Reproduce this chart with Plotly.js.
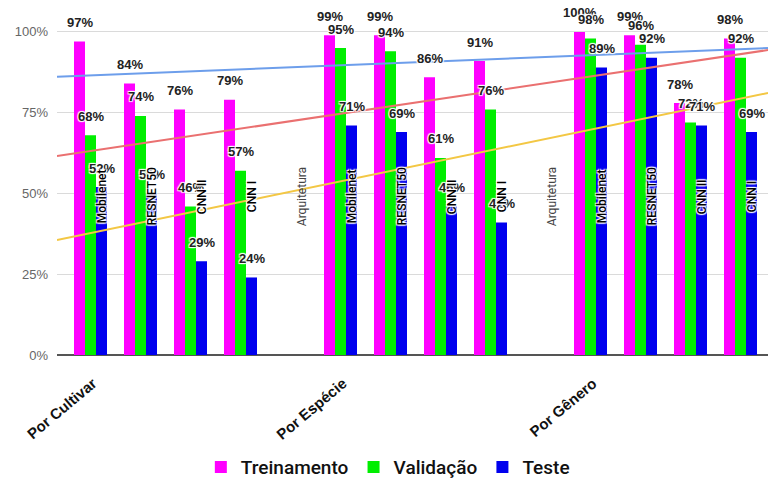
<!DOCTYPE html>
<html><head><meta charset="utf-8">
<script src="https://cdn.plot.ly/plotly-3.0.1.min.js"></script>
<style>html,body{margin:0;padding:0;background:#fff}#chart{width:768px;height:479px}</style>
</head><body><div id="chart"></div>
<script>
// ---- data ----
const groups = ['Por Cultivar', 'Por Espécie', 'Por Gênero'];
const archs = ['Mobilenet', 'RESNET50', 'CNN II', 'CNN I'];
const spacerLabel = 'Arquitetura';
const seriesNames = ['Treinamento', 'Validação', 'Teste'];
const treinamento = [97, 84, 76, 79, 99, 99, 86, 91, 100, 99, 78, 98];
const validacao   = [68, 74, 46, 57, 95, 94, 61, 76, 98, 96, 72, 92];
const teste       = [52, 50, 29, 24, 71, 69, 46, 41, 89, 92, 71, 69];
const trendX = [0.33, 14.55];
const trendTreinamento = [86.1, 95.0];
const trendValidacao   = [61.6, 94.4];
const trendTeste       = [35.6, 81.1];
const yTicks = [0, 25, 50, 75, 100];

// ---- build ----
const colors = ['#ff00ff', '#00ee00', '#0000ee'];
const trendColors = ['#6d9eeb', '#ea7070', '#f3c744'];
const seriesVals = [treinamento, validacao, teste];
const slots = [], slotArch = [];
groups.forEach((g, gi) => archs.forEach((a, ai) => { slots.push(gi * 5 + 1 + ai); slotArch.push(a); }));
const spacerSlots = groups.map((g, gi) => gi * 5);
const groupTicks = groups.map((g, gi) => gi * 5 + 1.05);

const bargap = 0.34;
const bw = (1 - bargap) / 3;
const offs = [-bw, 0, bw];

const traces = seriesVals.map((vals, k) => ({
  type: 'bar', name: seriesNames[k], x: slots, y: vals,
  marker: {color: colors[k], line: {width: 0}}, hoverinfo: 'skip'
}));
const trends = [trendTreinamento, trendValidacao, trendTeste];
trends.forEach((t, k) => traces.push({
  type: 'scatter', mode: 'lines', x: trendX, y: t, showlegend: false,
  line: {color: trendColors[k], width: 2}, hoverinfo: 'skip'
}));

const halo = '1px 1px 1px #fff, -1px -1px 1px #fff, 1px -1px 1px #fff, -1px 1px 1px #fff';
const annotations = [];
seriesVals.forEach((vals, k) => vals.forEach((v, i) => annotations.push({
  x: slots[i] + offs[k], y: v, xref: 'x', yref: 'y', text: v + '%', showarrow: false,
  yshift: 19, yanchor: 'middle', xanchor: 'center',
  font: {family: 'Arial, Liberation Sans, sans-serif', size: 13, color: '#222', weight: 'bold', shadow: halo}
})));
slots.forEach((s, i) => annotations.push({
  x: s + offs[2], y: 49, xref: 'x', yref: 'y', text: slotArch[i], showarrow: false, textangle: -90,
  font: {family: 'Liberation Sans Narrow, Arial Narrow, Roboto, sans-serif', size: 12, color: '#000', weight: 500, shadow: halo}
}));
spacerSlots.forEach(s => annotations.push({
  x: s + offs[2], y: 49, xref: 'x', yref: 'y', text: spacerLabel, showarrow: false, textangle: -90,
  font: {family: 'Liberation Sans Narrow, Arial Narrow, Roboto, sans-serif', size: 12, color: '#444'}
}));

const layout = {
  width: 768, height: 479,
  margin: {l: 57, r: 0, t: 19, b: 124},
  paper_bgcolor: '#fff', plot_bgcolor: '#fff',
  barmode: 'group', bargap: bargap, bargroupgap: 0,
  xaxis: {range: [0.33, 14.55], tickmode: 'array', tickvals: groupTicks, ticktext: groups, tickangle: -40,
    tickfont: {family: 'Arial, Liberation Sans, sans-serif', size: 15, color: '#111', weight: 'bold'},
    ticklabelstandoff: 16,
    showgrid: false, zeroline: false, ticks: '', showline: false},
  yaxis: {range: [0, 104], tickmode: 'array', tickvals: yTicks, ticktext: yTicks.map(v => v + '%'),
    gridcolor: '#dadada', gridwidth: 1, zeroline: true, zerolinecolor: '#555', zerolinewidth: 1.5,
    tickfont: {family: 'Arial, Liberation Sans, sans-serif', size: 13, color: '#666'}, ticklabelstandoff: 8},
  legend: {orientation: 'h', xref: 'container', x: 0.505, xanchor: 'center', yref: 'container', y: 0.025, yanchor: 'middle',
    font: {family: 'Liberation Sans Narrow, Arial Narrow, Roboto, sans-serif', size: 19, color: '#111', weight: 500}},
  annotations: annotations,
  showlegend: true
};
Plotly.newPlot('chart', traces, layout, {displayModeBar: false, staticPlot: true});
</script></body></html>
